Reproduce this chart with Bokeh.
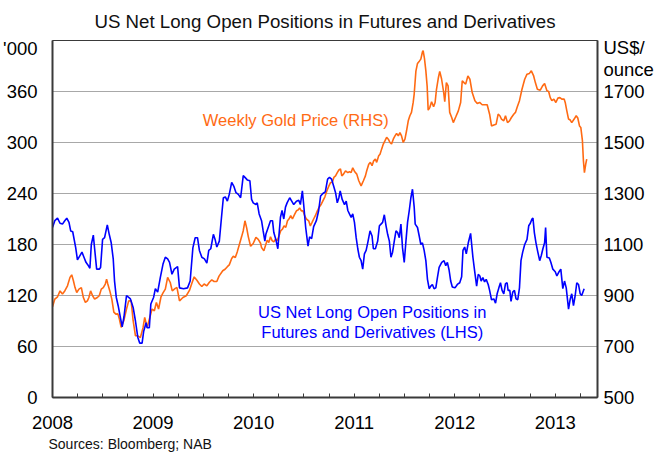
from bokeh.plotting import figure
from bokeh.models import Range1d, LinearAxis, FixedTicker, Label, Title
from bokeh.embed import file_html
from bokeh.resources import INLINE

TITLE = "US Net Long Open Positions in Futures and Derivatives"
SOURCE = "Sources: Bloomberg; NAB"
GOLD_NOTE = "Weekly Gold Price (RHS)"
POS_NOTE_1 = "US Net Long Open Positions in"
POS_NOTE_2 = "Futures and Derivatives (LHS)"
LEFT_UNIT = "'000"
RIGHT_UNIT_1 = "US$/"
RIGHT_UNIT_2 = "ounce"

YEARS = [2008, 2009, 2010, 2011, 2012, 2013]
LEFT_TICKS = [0, 60, 120, 180, 240, 300, 360]
RIGHT_TICKS = [500, 700, 900, 1100, 1300, 1500, 1700]

# US net long open positions ('000), decimal year
POS_T = [2008.000, 2008.023, 2008.050, 2008.075, 2008.099, 2008.122, 2008.142, 2008.164, 2008.181, 2008.201,
         2008.231, 2008.248, 2008.273, 2008.293, 2008.313, 2008.333, 2008.352, 2008.372, 2008.386, 2008.406,
         2008.419, 2008.439, 2008.465, 2008.478, 2008.498, 2008.518, 2008.545, 2008.564, 2008.584, 2008.604,
         2008.617, 2008.634, 2008.653, 2008.669, 2008.693, 2008.711, 2008.736, 2008.755, 2008.775, 2008.802,
         2008.825, 2008.848, 2008.867, 2008.891, 2008.907, 2008.931, 2008.941, 2008.963, 2008.978, 2009.006,
         2009.023, 2009.046, 2009.072, 2009.099, 2009.122, 2009.145, 2009.164, 2009.188, 2009.211, 2009.244,
         2009.263, 2009.303, 2009.343, 2009.369, 2009.396, 2009.419, 2009.442, 2009.461, 2009.485, 2009.511,
         2009.535, 2009.554, 2009.574, 2009.600, 2009.617, 2009.634, 2009.659, 2009.683, 2009.699, 2009.719,
         2009.739, 2009.758, 2009.782, 2009.805, 2009.825, 2009.848, 2009.871, 2009.897, 2009.914, 2009.937,
         2009.963, 2009.980, 2009.996, 2010.023, 2010.036, 2010.055, 2010.079, 2010.095, 2010.112, 2010.122,
         2010.145, 2010.168, 2010.188, 2010.201, 2010.221, 2010.241, 2010.253, 2010.267, 2010.283, 2010.300,
         2010.317, 2010.333, 2010.359, 2010.379, 2010.399, 2010.426, 2010.449, 2010.465, 2010.485, 2010.498,
         2010.518, 2010.541, 2010.557, 2010.577, 2010.597, 2010.624, 2010.647, 2010.666, 2010.689, 2010.713,
         2010.736, 2010.755, 2010.775, 2010.795, 2010.815, 2010.832, 2010.848, 2010.861, 2010.881, 2010.904,
         2010.921, 2010.937, 2010.953, 2010.970, 2010.986, 2011.003, 2011.020, 2011.036, 2011.052, 2011.069,
         2011.085, 2011.102, 2011.119, 2011.135, 2011.158, 2011.178, 2011.191, 2011.211, 2011.234, 2011.251,
         2011.267, 2011.283, 2011.300, 2011.317, 2011.333, 2011.350, 2011.366, 2011.382, 2011.399, 2011.416,
         2011.432, 2011.449, 2011.465, 2011.481, 2011.498, 2011.515, 2011.531, 2011.548, 2011.564, 2011.580,
         2011.597, 2011.607, 2011.630, 2011.647, 2011.663, 2011.679, 2011.696, 2011.713, 2011.729, 2011.746,
         2011.762, 2011.778, 2011.795, 2011.812, 2011.828, 2011.845, 2011.871, 2011.894, 2011.911, 2011.927,
         2011.944, 2011.960, 2011.976, 2012.003, 2012.026, 2012.050, 2012.069, 2012.082, 2012.099, 2012.115,
         2012.135, 2012.158, 2012.181, 2012.198, 2012.218, 2012.234, 2012.250, 2012.263, 2012.280, 2012.297,
         2012.313, 2012.333, 2012.347, 2012.366, 2012.389, 2012.406, 2012.422, 2012.439, 2012.455, 2012.471,
         2012.488, 2012.505, 2012.521, 2012.531, 2012.548, 2012.560, 2012.577, 2012.594, 2012.610, 2012.627,
         2012.644, 2012.659, 2012.676, 2012.696, 2012.719, 2012.736, 2012.752, 2012.768, 2012.778, 2012.792,
         2012.808, 2012.825, 2012.845, 2012.861, 2012.877, 2012.894, 2012.904, 2012.917, 2012.941, 2012.956,
         2012.976, 2013.000, 2013.016, 2013.033, 2013.055, 2013.075, 2013.092, 2013.109, 2013.132, 2013.149,
         2013.164, 2013.181, 2013.198, 2013.214, 2013.231, 2013.248, 2013.263, 2013.287]
POS_V = [200, 208, 211, 205, 204, 208, 211, 206, 196, 195,
         176, 162, 167, 171, 165, 159, 156, 152, 180, 191,
         175, 151, 151, 153, 186, 188, 203, 192, 182, 163,
         137, 118, 108, 98, 83, 95, 120, 118, 116, 106,
         90, 71, 64, 64, 78, 88, 82, 82, 110, 118,
         128, 124, 141, 157, 165, 163, 159, 145, 151, 154,
         129, 128, 129, 137, 176, 188, 188, 173, 165, 163,
         158, 173, 175, 192, 186, 177, 184, 215, 235, 236,
         231, 239, 253, 248, 241, 239, 235, 261, 259, 256,
         255, 233, 229, 227, 229, 216, 208, 196, 184, 192,
         200, 208, 208, 194, 186, 175, 192, 212, 220, 210,
         224, 229, 235, 231, 227, 231, 232, 227, 243, 227,
         200, 178, 189, 187, 201, 208, 220, 237, 240, 242,
         257, 259, 257, 249, 241, 229, 235, 243, 233, 227,
         231, 220, 216, 212, 216, 206, 188, 175, 165, 161,
         151, 169, 173, 182, 196, 190, 175, 175, 184, 202,
         204, 206, 215, 202, 192, 184, 165, 171, 184, 196,
         194, 188, 204, 176, 159, 184, 206, 220, 235, 245,
         224, 204, 200, 190, 180, 182, 173, 161, 139, 128,
         131, 133, 128, 129, 141, 153, 159, 161, 155, 159,
         150, 137, 130, 129, 133, 135, 142, 173, 177, 169,
         182, 193, 165, 149, 131, 145, 143, 137, 141, 136,
         139, 133, 126, 115, 116, 111, 122, 129, 135, 126,
         122, 134, 135, 126, 126, 113, 124, 126, 116, 115,
         129, 161, 171, 180, 186, 202, 205, 210, 211, 194,
         182, 172, 161, 167, 175, 182, 200, 165, 164, 159,
         151, 148, 143, 147, 151, 128, 137, 129, 104, 116,
         122, 108, 120, 135, 133, 122, 120, 128]

# Weekly gold price (US$/ounce), decimal year
GOLD_T = [2008.000, 2008.023, 2008.050, 2008.075, 2008.099, 2008.122, 2008.149, 2008.174, 2008.191, 2008.208,
          2008.224, 2008.241, 2008.263, 2008.287, 2008.307, 2008.327, 2008.347, 2008.362, 2008.379, 2008.399,
          2008.419, 2008.446, 2008.465, 2008.485, 2008.505, 2008.525, 2008.538, 2008.550, 2008.570, 2008.590,
          2008.610, 2008.630, 2008.650, 2008.663, 2008.683, 2008.709, 2008.736, 2008.758, 2008.782, 2008.802,
          2008.825, 2008.848, 2008.874, 2008.901, 2008.917, 2008.941, 2008.963, 2008.990, 2009.013, 2009.033,
          2009.055, 2009.079, 2009.099, 2009.122, 2009.145, 2009.171, 2009.191, 2009.221, 2009.238, 2009.263,
          2009.297, 2009.330, 2009.362, 2009.386, 2009.409, 2009.436, 2009.461, 2009.485, 2009.508, 2009.535,
          2009.560, 2009.584, 2009.607, 2009.634, 2009.656, 2009.693, 2009.716, 2009.739, 2009.758, 2009.782,
          2009.798, 2009.818, 2009.838, 2009.857, 2009.881, 2009.897, 2009.914, 2009.931, 2009.947, 2009.970,
          2009.996, 2010.023, 2010.046, 2010.069, 2010.079, 2010.102, 2010.122, 2010.135, 2010.151, 2010.168,
          2010.184, 2010.201, 2010.218, 2010.234, 2010.253, 2010.270, 2010.287, 2010.303, 2010.320, 2010.337,
          2010.352, 2010.369, 2010.386, 2010.409, 2010.426, 2010.442, 2010.458, 2010.475, 2010.491, 2010.508,
          2010.525, 2010.548, 2010.564, 2010.580, 2010.597, 2010.614, 2010.634, 2010.650, 2010.673, 2010.689,
          2010.709, 2010.729, 2010.749, 2010.765, 2010.782, 2010.798, 2010.815, 2010.832, 2010.848, 2010.864,
          2010.877, 2010.894, 2010.914, 2010.937, 2010.953, 2010.970, 2010.986, 2011.006, 2011.026, 2011.046,
          2011.069, 2011.092, 2011.112, 2011.125, 2011.145, 2011.161, 2011.178, 2011.194, 2011.211, 2011.224,
          2011.244, 2011.257, 2011.273, 2011.290, 2011.307, 2011.323, 2011.340, 2011.356, 2011.372, 2011.389,
          2011.406, 2011.422, 2011.439, 2011.455, 2011.471, 2011.488, 2011.505, 2011.521, 2011.538, 2011.554,
          2011.570, 2011.587, 2011.597, 2011.614, 2011.630, 2011.650, 2011.663, 2011.679, 2011.686, 2011.699,
          2011.713, 2011.726, 2011.736, 2011.752, 2011.770, 2011.790, 2011.805, 2011.818, 2011.838, 2011.851,
          2011.869, 2011.889, 2011.901, 2011.917, 2011.934, 2011.950, 2011.970, 2011.986, 2012.010, 2012.036,
          2012.059, 2012.075, 2012.092, 2012.109, 2012.131, 2012.151, 2012.174, 2012.201, 2012.224, 2012.248,
          2012.273, 2012.300, 2012.323, 2012.347, 2012.366, 2012.389, 2012.412, 2012.432, 2012.449, 2012.465,
          2012.488, 2012.505, 2012.525, 2012.545, 2012.564, 2012.587, 2012.604, 2012.620, 2012.644, 2012.669,
          2012.696, 2012.719, 2012.743, 2012.762, 2012.785, 2012.802, 2012.822, 2012.851, 2012.874, 2012.894,
          2012.917, 2012.934, 2012.950, 2012.966, 2012.986, 2013.006, 2013.026, 2013.046, 2013.065, 2013.089,
          2013.099, 2013.115, 2013.132, 2013.149, 2013.164, 2013.188, 2013.208, 2013.224, 2013.241, 2013.254,
          2013.270, 2013.280, 2013.290, 2013.303, 2013.313]
GOLD_V = [856, 886, 895, 918, 906, 918, 938, 971, 981, 958,
          931, 912, 925, 931, 892, 873, 879, 892, 918, 899,
          886, 892, 899, 925, 931, 945, 964, 945, 918, 886,
          835, 827, 828, 811, 775, 801, 847, 879, 879, 801,
          742, 742, 735, 775, 814, 775, 807, 847, 840, 873,
          847, 895, 910, 925, 971, 951, 918, 928, 931, 879,
          892, 899, 920, 948, 973, 960, 945, 935, 945, 938,
          952, 961, 955, 955, 976, 997, 1003, 1013, 1020, 1045,
          1054, 1049, 1072, 1098, 1131, 1154, 1193, 1165, 1131, 1093,
          1104, 1128, 1120, 1105, 1088, 1075, 1101, 1117, 1108, 1130,
          1115, 1110, 1121, 1115, 1134, 1154, 1160, 1173, 1167, 1193,
          1200, 1213, 1200, 1219, 1232, 1235, 1243, 1232, 1232, 1213,
          1200, 1193, 1173, 1186, 1200, 1213, 1232, 1245, 1258, 1271,
          1287, 1311, 1330, 1343, 1343, 1363, 1369, 1382, 1392, 1396,
          1369, 1376, 1389, 1382, 1386, 1382, 1401, 1385, 1376, 1350,
          1330, 1350, 1369, 1389, 1415, 1422, 1409, 1428, 1435, 1422,
          1448, 1454, 1474, 1494, 1507, 1520, 1513, 1500, 1494, 1513,
          1526, 1535, 1526, 1539, 1526, 1500, 1513, 1546, 1585, 1605,
          1618, 1657, 1690, 1780, 1810, 1820, 1827, 1855, 1860, 1830,
          1781, 1720, 1627, 1637, 1660, 1640, 1657, 1706, 1755, 1779,
          1750, 1700, 1660, 1735, 1722, 1618, 1598, 1578, 1600, 1624,
          1657, 1742, 1735, 1729, 1761, 1748, 1696, 1664, 1653, 1657,
          1648, 1648, 1648, 1611, 1565, 1569, 1572, 1611, 1605, 1592,
          1585, 1605, 1578, 1585, 1598, 1611, 1618, 1637, 1664, 1709,
          1748, 1768, 1771, 1781, 1761, 1735, 1709, 1705, 1722, 1731,
          1703, 1700, 1676, 1664, 1670, 1657, 1674, 1676, 1670, 1670,
          1657, 1624, 1592, 1588, 1578, 1592, 1605, 1596, 1565, 1559,
          1507, 1428, 1382, 1415, 1435]

X0, X1 = 2008.0, 2013.42
L0, L1 = 0, 420
R0, R1 = 500, 1900

FONT = "Liberation Sans"
TICK_SIZE = "18.5px"
ORANGE = "#FF6A13"
BLUE = "#0000FF"
AXIS = "#3A3A3A"

p = figure(width=656, height=453, output_backend="svg", toolbar_location=None,
           x_range=Range1d(X0, X1), y_range=Range1d(L0, L1),
           min_border_left=52, min_border_right=57, min_border_top=40, min_border_bottom=56,
           background_fill_color="white", border_fill_color="white")
p.extra_y_ranges = {"gold": Range1d(R0, R1)}
p.outline_line_color = AXIS
p.outline_line_width = 1
p.xgrid.visible = False
p.ygrid.ticker = FixedTicker(ticks=LEFT_TICKS)
p.ygrid.grid_line_color = "#A8A8A8"
p.ygrid.grid_line_width = 1

p.title = Title(text=TITLE, align="center", text_font=FONT, text_font_size="18.7px",
                text_font_style="normal", text_color="#111111", standoff=17, offset=4)

src = Title(text=SOURCE, align="left", text_font=FONT, text_font_size="14px",
            text_font_style="normal", text_color="#111111", standoff=4, offset=-4)
p.add_layout(src, "below")

quarters = [y + q for y in YEARS for q in (0.25, 0.5, 0.75)] + [2013.25]
xa = p.xaxis[0]
xa.ticker = FixedTicker(ticks=YEARS, minor_ticks=quarters)
xa.major_label_overrides = {y: str(y) for y in YEARS}
xa.major_tick_in = 4
xa.major_tick_out = 0
xa.minor_tick_in = 4
xa.minor_tick_out = 0
xa.major_tick_line_color = AXIS
xa.minor_tick_line_color = AXIS
xa.axis_line_color = AXIS
xa.axis_line_width = 2
xa.major_label_standoff = 18
xa.major_label_text_font = FONT
xa.major_label_text_font_size = TICK_SIZE
xa.major_label_text_color = "black"

# unit captions sit at the top of each value axis
LEFT_UNIT_AT = 410.5
RIGHT_UNIT_AT = [1871, 1785]

ya = p.yaxis[0]
ya.ticker = FixedTicker(ticks=LEFT_TICKS + [LEFT_UNIT_AT])
ya.major_label_overrides = {LEFT_UNIT_AT: LEFT_UNIT}
ya.major_tick_in = 0
ya.major_tick_out = 0
ya.minor_tick_in = 0
ya.minor_tick_out = 0
ya.axis_line_color = AXIS
ya.axis_line_width = 2
ya.major_label_standoff = 15
ya.major_label_text_font = FONT
ya.major_label_text_font_size = TICK_SIZE
ya.major_label_text_color = "black"

ra = LinearAxis(y_range_name="gold", ticker=FixedTicker(ticks=RIGHT_TICKS + RIGHT_UNIT_AT))
ra.major_label_overrides = {RIGHT_UNIT_AT[0]: RIGHT_UNIT_1, RIGHT_UNIT_AT[1]: RIGHT_UNIT_2}
ra.major_tick_in = 0
ra.major_tick_out = 0
ra.minor_tick_in = 0
ra.minor_tick_out = 0
ra.axis_line_color = AXIS
ra.axis_line_width = 2
ra.major_label_standoff = 6
ra.major_label_text_font = FONT
ra.major_label_text_font_size = TICK_SIZE
ra.major_label_text_color = "black"
p.add_layout(ra, "right")

p.line(GOLD_T, GOLD_V, y_range_name="gold", line_color=ORANGE, line_width=1.6)
p.line(POS_T, POS_V, line_color=BLUE, line_width=1.6)

def lab(text, x, y, align, size, color):
    p.add_layout(Label(x=x, y=y, text=text, text_align=align, text_baseline="middle",
                       text_font=FONT, text_font_size=size, text_color=color))

lab(GOLD_NOTE, 2009.495, 326, "left", "16.5px", ORANGE)
lab(POS_NOTE_1, 2011.18, 101, "center", "16.5px", BLUE)
lab(POS_NOTE_2, 2011.18, 77, "center", "16.5px", BLUE)

open("out.html", "w").write(file_html(p, INLINE))
